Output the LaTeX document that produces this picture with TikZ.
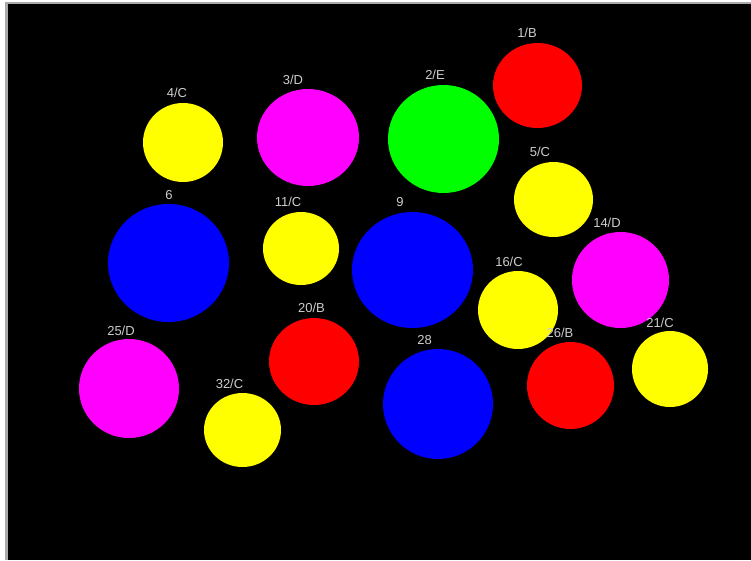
\documentclass[tikz,border=0pt]{standalone}
\usepackage{fontspec}
\setmainfont{Liberation Sans}
\usepackage{tikz}
\usetikzlibrary{shapes.geometric}
\definecolor{tagtext}{RGB}{205,205,205}
\definecolor{frameline}{RGB}{170,170,170}
\definecolor{bred}{RGB}{255,0,0}
\definecolor{bgreen}{RGB}{0,255,0}
\definecolor{bblue}{RGB}{0,0,255}
\definecolor{byellow}{RGB}{255,255,0}
\definecolor{bmagenta}{RGB}{255,0,255}

\begin{document}
\begin{tikzpicture}[
  x=1pt, y=-1pt,
  ball/.style={ellipse, inner sep=0pt, draw=none},
  tag/.style={text=tagtext, inner sep=0pt, font=\fontsize{13}{13}\selectfont}
]
  \useasboundingbox (0,0) rectangle (751,560);
  \fill[white] (0,0) rectangle (751,560);
  \fill[frameline] (5,2) rectangle (751,560);
  \fill[black] (8,4) rectangle (751,560);

  % blobs
  \node[ball, fill=bred,     minimum width=89pt,  minimum height=85pt]  (b1)  at (537.5,85.5) {};
  \node[ball, fill=bgreen,   minimum width=111pt, minimum height=108pt] (b2)  at (443.5,139)  {};
  \node[ball, fill=bmagenta, minimum width=102pt, minimum height=97pt]  (b3)  at (308,137.5)  {};
  \node[ball, fill=byellow,  minimum width=80pt,  minimum height=79pt]  (b4)  at (183,142.5)  {};
  \node[ball, fill=byellow,  minimum width=79pt,  minimum height=75pt]  (b5)  at (553.5,199.5) {};
  \node[ball, fill=bblue,    minimum width=121pt, minimum height=118pt] (b6)  at (168.5,263)  {};
  \node[ball, fill=bblue,    minimum width=121pt, minimum height=116pt] (b9)  at (412.5,270)  {};
  \node[ball, fill=byellow,  minimum width=76pt,  minimum height=73pt]  (b11) at (301,248.5)  {};
  \node[ball, fill=bmagenta, minimum width=97pt,  minimum height=96pt]  (b14) at (620.5,280)  {};
  \node[ball, fill=byellow,  minimum width=80pt,  minimum height=78pt]  (b16) at (518,310)    {};
  \node[ball, fill=bred,     minimum width=90pt,  minimum height=87pt]  (b20) at (314,361.5)  {};
  \node[ball, fill=byellow,  minimum width=76pt,  minimum height=76pt]  (b21) at (670,369)    {};
  \node[ball, fill=bmagenta, minimum width=100pt, minimum height=99pt]  (b25) at (129,388.5)  {};
  \node[ball, fill=bred,     minimum width=87pt,  minimum height=87pt]  (b26) at (570.5,385.5) {};
  \node[ball, fill=bblue,    minimum width=110pt, minimum height=110pt] (b28) at (438,404)    {};
  \node[ball, fill=byellow,  minimum width=77pt,  minimum height=74pt]  (b32) at (242.5,430)  {};

  % labels
  \node[tag] (t1)  at (527,33)    {1/B};
  \node[tag] (t2)  at (435,75)    {2/E};
  \node[tag] (t3)  at (293,80)    {3/D};
  \node[tag] (t4)  at (177,93)    {4/C};
  \node[tag] (t5)  at (540,152)   {5/C};
  \node[tag] (t6)  at (169,195)   {6};
  \node[tag] (t9)  at (400,202)   {9};
  \node[tag] (t11) at (288,202)   {11/C};
  \node[tag] (t14) at (607,223)   {14/D};
  \node[tag] (t16) at (509,262)   {16/C};
  \node[tag] (t20) at (311.5,308) {20/B};
  \node[tag] (t21) at (660,323)   {21/C};
  \node[tag] (t25) at (121,331)   {25/D};
  \node[tag] (t26) at (560,333)   {26/B};
  \node[tag] (t28) at (424.5,340) {28};
  \node[tag] (t32) at (229.5,384) {32/C};
\end{tikzpicture}
\end{document}
